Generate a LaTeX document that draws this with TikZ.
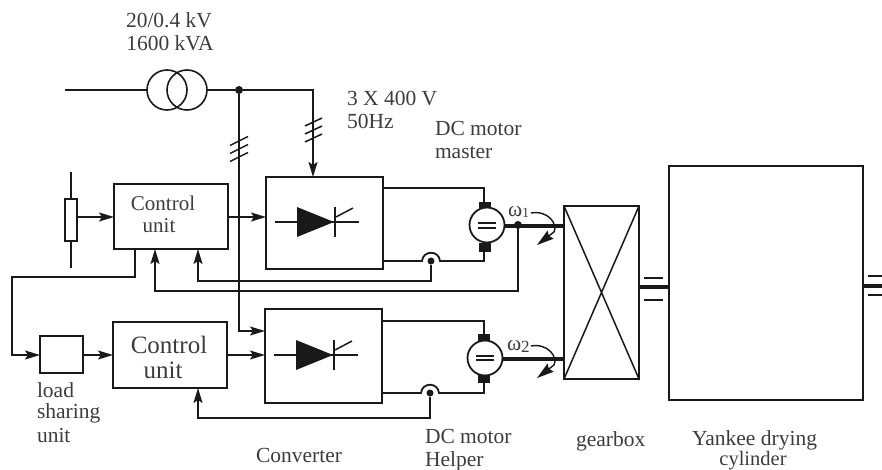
\documentclass[tikz,border=0pt]{standalone}
\usepackage{fontspec}
\setmainfont{Liberation Serif}
\usetikzlibrary{arrows.meta}
\tikzset{
  box/.style={draw=ink,line width=1.8pt,rectangle,inner sep=0,outer sep=0,anchor=north west},
  wire/.style={draw=ink,line width=1.8pt},
  sig/.style={wire,-{Stealth[length=15pt,width=9pt,inset=3pt]}},
  shaft/.style={draw=ink,line width=3.2pt},
  thin/.style={draw=ink,line width=1.5pt},
  junction/.style={circle,fill=ink,inner sep=0,outer sep=0,minimum size=8pt},
  brush/.style={rectangle,fill=ink,inner sep=0,outer sep=0,minimum width=12pt},
  motor/.style={circle,draw=ink,line width=1.8pt,fill=white,inner sep=0,outer sep=0,minimum size=35pt},
  lbl/.style={inner sep=0,outer sep=0,text=ink!85,font=\fontsize{21.5}{21.5}\selectfont,anchor=base west},
}
\definecolor{ink}{gray}{0.1}
\newcommand{\thyr}[2]{%
  \fill[ink] (#1+31,#2-15) -- (#1+68,#2) -- (#1+31,#2+15) -- cycle;
  \draw[thin] (#1+9,#2) -- (#1+93,#2);
  \draw[thin] (#1+69,#2-15) -- (#1+69,#2+15);
  \draw[thin] (#1+70,#2-5) -- (#1+87,#2-14);
}
\begin{document}
\begin{tikzpicture}[x=1pt,y=-1pt]
\useasboundingbox (0,0) rectangle (882,470);
% blocks
\node[box,minimum width=114pt,minimum height=65pt] (cu1) at (114,184) {};
\node[box,minimum width=114pt,minimum height=66pt] (cu2) at (113,322) {};
\node[box,minimum width=117pt,minimum height=92pt] (conv1) at (266,177) {};
\node[box,minimum width=117pt,minimum height=94pt] (conv2) at (265,309) {};
\node[box,minimum width=43pt,minimum height=37pt] (lsu) at (40,336) {};
\node[box,minimum width=12pt,minimum height=42pt] (res) at (65,199) {};
\node[box,minimum width=75pt,minimum height=173pt] (gear) at (564,206) {};
\node[box,minimum width=194pt,minimum height=234pt] (yank) at (669,166) {};
% transformer
\node[circle,draw=ink,line width=1.6pt,minimum size=40pt,inner sep=0,outer sep=0] (tl) at (167,90) {};
\node[circle,draw=ink,line width=1.6pt,minimum size=40pt,inner sep=0,outer sep=0] (tr) at (187,90) {};
% coordinates and junctions
\coordinate (in) at (65,90);
\coordinate (corner) at (313,90);
\node[junction] (j0) at (239,90) {};
\coordinate (c2in) at (239,331);
\node[junction] (j1) at (518,225) {};
\node[junction,minimum size=7pt] (j2) at (431,261) {};
\node[junction,minimum size=7pt] (j3) at (430,393) {};
\coordinate (rtop) at (71,172);
\coordinate (rbot) at (71,268);
% motors
\node[brush,minimum height=10pt] (b1t) at (485,207) {};
\node[brush,minimum height=9pt] (b1b) at (485,247) {};
\node[brush,minimum height=9pt] (b2t) at (484,338) {};
\node[brush,minimum height=10pt] (b2b) at (484,378) {};
\node[motor] (m1) at (487,225) {};
\node[motor] (m2) at (485,358) {};
\foreach \n/\dy in {m1/-2.5,m1/2.5,m2/-2,m2/2}{\draw[thin,line width=2pt] ([shift={(-9,\dy)}]\n.center) -- ([shift={(9,\dy)}]\n.center);}
% mains
\draw[wire] (in) -- (tl.west);
\draw[wire] (tr.east) -- (j0);
\draw[sig] (j0) -- (corner) -- (corner |- conv1.north);
\draw[sig] (j0) -- (c2in) -- (conv2.west |- c2in);
\foreach \c in {141,149,157}{\draw[thin] (230,\c+4.5) -- (248,\c-4.5);}
\foreach \c in {122,130,138}{\draw[thin] (305,\c+4) -- (322,\c-4);}
% signal path
\draw[wire] (rtop) -- (res.north -| rtop) (res.south -| rtop) -- (rbot);
\draw[sig] (res.east |- 0,217) -- (cu1.west |- 0,217);
\draw[sig] (cu1.east |- 0,217) -- (conv1.west |- 0,217);
\draw[sig] (cu1.south -| 135,0) -- (135,277) -- (12,277) -- (12,355) -- (lsu.west |- 0,355);
\draw[sig] (lsu.east |- 0,355) -- (cu2.west |- 0,355);
\draw[sig] (cu2.east |- 0,355) -- (conv2.west |- 0,355);
% feedback
\draw[sig] (j1) -- (j1 |- 0,291) -- (155,291) -- (155,249);
\draw[sig] (j2) -- (j2 |- 0,281) -- (198,281) -- (198,249);
\draw[sig] (j3) -- (j3 |- 0,418) -- (198,418) -- (198,388);
% armature
\draw[wire] (conv1.east |- 0,188) -- (484,188) -- (b1t.north -| 484,0);
\draw[wire] (conv1.east |- 0,261) -- (422,261) .. controls (423,250) and (439,250) .. (440,261) -- (484,261) -- (b1b.south -| 484,0);
\draw[wire] (conv2.east |- 0,321) -- (484,321) -- (b2t.north);
\draw[wire] (conv2.east |- 0,393) -- (421,393) .. controls (422,382) and (438,382) .. (439,393) -- (484,393) -- (b2b.south);
\thyr{266}{222}
\thyr{265}{355}
% shafts
\draw[shaft] (m1.east |- 0,226) -- (gear.west |- 0,226);
\draw[shaft] (m2.east |- 0,359) -- (gear.west |- 0,359);
\draw[shaft] (gear.east |- 0,287) -- (yank.west |- 0,287);
\coordinate (rend) at (882,286);
\draw[shaft] (yank.east |- rend) -- (rend);
\draw[thin] (644,278) -- (663,278) (644,300) -- (663,300) (868,276) -- (882,276) (868,295) -- (882,295);
\draw[wire,line width=1.5pt] (gear.north west) -- (gear.south east) (gear.north east) -- (gear.south west);
% rotation arrows
\foreach \d in {0,133}{
  \draw[wire,line width=1.4pt,-{Stealth[length=17pt,width=10pt,inset=2pt]}] (531,213+\d) .. controls (548,210+\d) and (558,224+\d) .. (554,232+\d) -- (537,245+\d);
}
% labels
\node[lbl,anchor=base] (t1) at (169,28) {20/0.4 kV};
\node[lbl,anchor=base] (t2) at (170,51) {1600 kVA};
\node[lbl] (t3) at (347,106) {3 X 400 V};
\node[lbl] (t4) at (347,129) {50Hz};
\node[lbl] (t5) at (435,136) {DC motor};
\node[lbl] (t6) at (435,159) {master};
\node[lbl,anchor=base,font=\fontsize{21}{21}\selectfont] (t7) at (163,211) {Control};
\node[lbl,anchor=base,font=\fontsize{21}{21}\selectfont] (t8) at (159,233) {unit};
\node[lbl,anchor=base,font=\fontsize{25}{25}\selectfont] (t9) at (169,353) {Control};
\node[lbl,anchor=base,font=\fontsize{25}{25}\selectfont] (t10) at (163,378) {unit};
\node[lbl] (t11) at (37,397) {load};
\node[lbl] (t12) at (37,418) {sharing};
\node[lbl] (t13) at (37,442) {unit};
\node[lbl] (t14) at (256,462) {Converter};
\node[lbl] (t15) at (425,443) {DC motor};
\node[lbl] (t16) at (425,466) {Helper};
\node[lbl] (t17) at (576,446) {gearbox};
\node[lbl] (t18) at (692,445) {Yankee drying};
\node[lbl,anchor=base,font=\fontsize{20.5}{20.5}\selectfont] (t19) at (753,465.5) {cylinder};
\node[lbl] (w1) at (508,217) {ω\raisebox{-1pt}{\fontsize{14}{14}\selectfont 1}};
\node[lbl] (w2) at (507,350) {ω\raisebox{-2pt}{\fontsize{17}{17}\selectfont 2}};
\end{tikzpicture}
\end{document}
